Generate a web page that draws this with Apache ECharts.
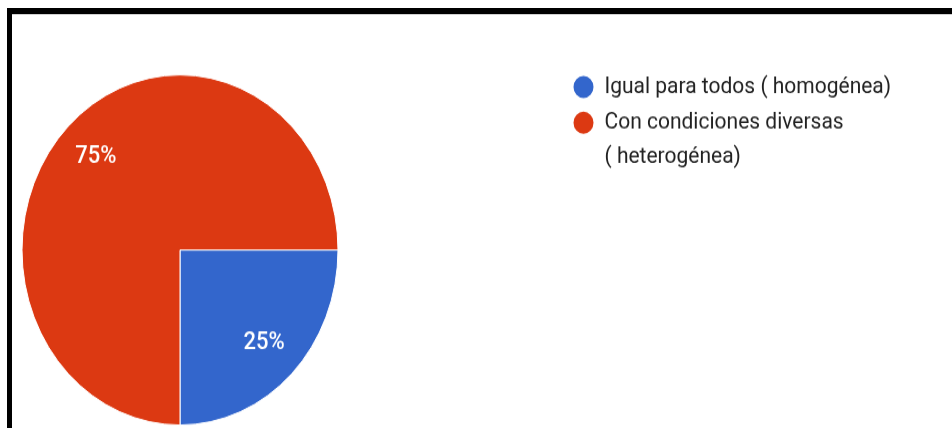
<!DOCTYPE html>
<html>
<head>
<meta charset="utf-8">
<script src="https://cdn.jsdelivr.net/npm/echarts@6/dist/echarts.min.js"></script>
<style>
  html, body { margin: 0; padding: 0; background: #ffffff; }
  body { width: 952px; height: 428px; overflow: hidden; position: relative; }
  #frame { position: absolute; left: 7px; top: 8px; width: 960px; height: 440px;
           border-top: 6px solid #000; border-left: 5px solid #000; box-sizing: border-box; }
  #frameShade { position: absolute; left: 12px; top: 14px; width: 960px; height: 1px; background: #d0d0d0; }
  #chart { position: absolute; left: 0; top: 0; width: 952px; height: 386.3px;
           transform: scaleY(1.108); transform-origin: 0 0; }
</style>
</head>
<body>
<div id="frame"></div>
<div id="frameShade"></div>
<div id="chart"></div>
<script>
// ---- data ----
const categories = ['Igual para todos ( homogénea)', 'Con condiciones diversas ( heterogénea)'];
const values = [25, 75];
const colors = ['#3366cc', '#dc3912'];

const pieData = categories.map((name, i) => ({ name: name, value: values[i], itemStyle: { color: colors[i] } }));
const labelData = categories.map((name, i) => ({ name: name, value: values[i] }));

const chart = echarts.init(document.getElementById('chart'), null, { renderer: 'canvas' });
chart.setOption({
  animation: false,
  backgroundColor: 'transparent',
  legend: {
    orient: 'vertical',
    left: 571.5,
    top: 63,
    padding: 0,
    itemGap: -29.8,
    itemWidth: 24,
    itemHeight: 22,
    icon: 'circle',
    formatter: function (name) {
      // wrap the long entry; an empty first line keeps its first line level with the marker
      return name === categories[1] ? '{p|}\n{t|' + name.replace(' (', '}\n{t|(') + '}' : '{t|' + name + '}';
    },
    textStyle: {
      fontFamily: 'Roboto', fontSize: 21, color: '#222222', lineHeight: 31,
      rich: {
        t: { fontFamily: 'Roboto', fontSize: 21, color: '#222222', lineHeight: 31, padding: [0, 0, 0, 4] },
        p: { fontFamily: 'Roboto', fontSize: 21, lineHeight: 31, height: 31 }
      }
    },
    data: categories
  },
  series: [
    {
      type: 'pie',
      center: [180, 225.6],
      radius: [0, 158],
      startAngle: 0,
      clockwise: true,
      silent: true,
      label: { show: false },
      labelLine: { show: false },
      itemStyle: { borderColor: '#ffffff', borderWidth: 1 },
      emphasis: { disabled: true },
      data: pieData
    },
    {
      type: 'pie',
      center: [180, 225.6],
      radius: [101, 131],
      startAngle: 0,
      clockwise: true,
      silent: true,
      legendHoverLink: false,
      itemStyle: { color: 'transparent', borderWidth: 0 },
      emphasis: { disabled: true },
      labelLine: { show: false },
      label: {
        show: true,
        position: 'inside',
        formatter: function (p) { return Math.round(p.percent) + '%'; },
        fontFamily: 'Roboto',
        fontSize: 22,
        fontWeight: 500,
        color: '#ffffff'
      },
      data: labelData
    }
  ]
});
</script>
</body>
</html>
